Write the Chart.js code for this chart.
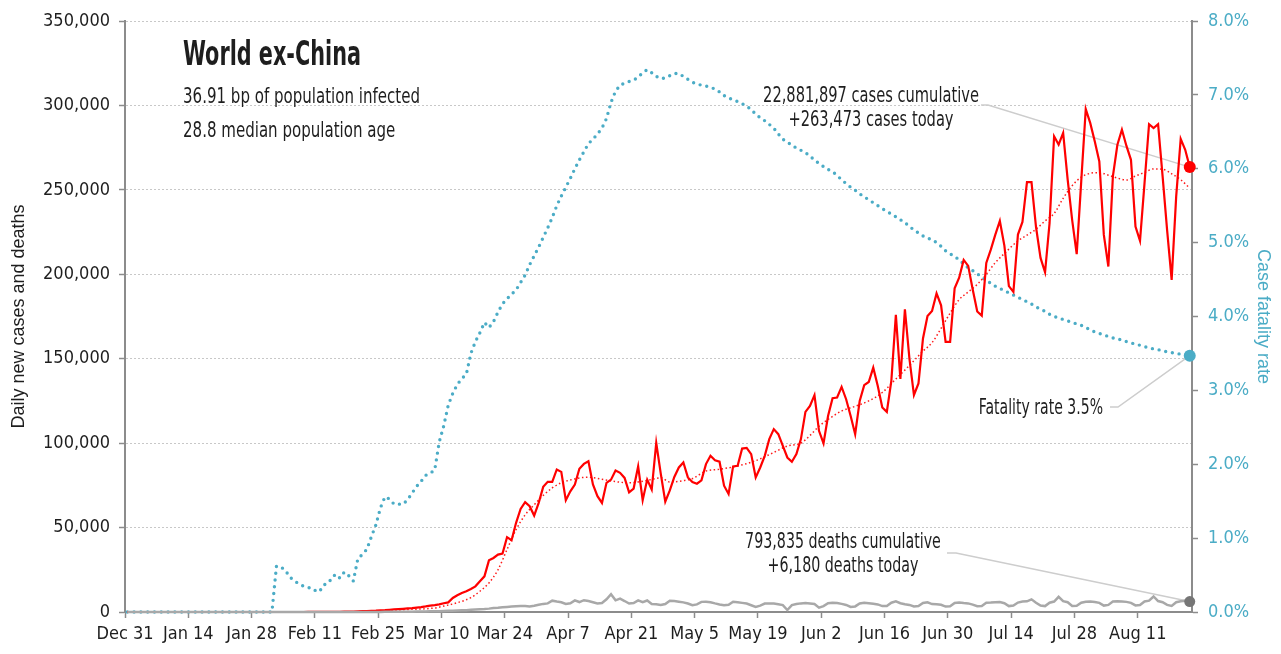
<!DOCTYPE html>
<html>
<head>
<meta charset="utf-8">
<title>World ex-China</title>
<script src="https://cdn.jsdelivr.net/npm/chart.js@4.4.1/dist/chart.umd.min.js"></script>
<style>
  html, body { margin: 0; padding: 0; background: #fff; }
  canvas { display: block; }
</style>
</head>
<body>
<canvas id="chart" width="1281" height="654"></canvas>
<script>
// Date axis labels, one every 14 days starting Dec 31 (day 0)
const dateTicks = ['Dec 31', 'Jan 14', 'Jan 28', 'Feb 11', 'Feb 25', 'Mar 10', 'Mar 24', 'Apr 7',
    'Apr 21', 'May 5', 'May 19', 'Jun 2', 'Jun 16', 'Jun 30', 'Jul 14', 'Jul 28', 'Aug 11'];

// Daily new cases, one value per day from Dec 31 to Aug 22
const newCases = [
    0, 0, 0, 0, 0, 0, 0, 0, 0, 0,
    0, 0, 0, 0, 0, 0, 0, 0, 0, 0,
    0, 0, 0, 0, 0, 0, 0, 0, 0, 0,
    0, 0, 0, 0, 0, 0, 0, 0, 0, 0,
    20, 30, 40, 50, 60, 80, 100, 150, 200, 250,
    300, 400, 500, 600, 700, 800, 1000, 1100, 1300, 1500,
    1700, 1900, 2100, 2300, 2600, 2900, 3300, 3800, 4100, 4500,
    5200, 5700, 8300, 9900, 11300, 12300, 13600, 15200, 18200, 21100,
    30600, 32000, 34000, 34600, 44300, 42500, 52800, 61000, 65000, 62600,
    57100, 64600, 74100, 77100, 77100, 84400, 83000, 66200, 71500, 75500,
    84800, 87700, 89300, 75500, 68600, 64600, 76500, 78400, 83800, 82400,
    79400, 70900, 73100, 86300, 66200, 78400, 72500, 100200, 82000, 65300,
    72000, 80000, 85600, 88600, 79700, 77000, 76000, 78000, 87600, 92500,
    89800, 89000, 74800, 69900, 86200, 86600, 96800, 97200, 93500, 79700,
    85600, 92500, 102400, 108300, 105300, 98400, 91500, 89000, 93500, 102400,
    118500, 122000, 128400, 107300, 99800, 116100, 126600, 127000, 133300, 126000,
    116100, 105300, 125000, 134300, 136200, 144700, 133900, 121100, 118500, 136800,
    176000, 138000, 179300, 150000, 128500, 135400, 162000, 175300, 178300, 188700,
    181600, 160000, 160000, 191700, 198000, 208500, 205000, 191000, 178000, 175500,
    206700, 214600, 223500, 231600, 217000, 193000, 189600, 223500, 231000, 254600,
    254600, 228000, 209700, 201200, 230400, 281700, 276800, 283700, 256000, 232000,
    211900, 255000, 297800, 289500, 278700, 266800, 223300, 204600, 258000, 276700,
    285600, 276000, 267800, 228300, 219800, 254000, 288900, 286600, 288900, 258000,
    226000, 196700, 246000, 280200, 273700, 263473
];

// Daily new deaths, same days
const newDeaths = [
    0, 0, 0, 0, 0, 0, 0, 0, 0, 0,
    0, 0, 0, 0, 0, 0, 0, 0, 0, 0,
    0, 0, 0, 0, 0, 0, 0, 0, 0, 0,
    0, 0, 0, 0, 0, 0, 0, 0, 0, 0,
    0, 0, 0, 0, 0, 0, 0, 0, 0, 0,
    20, 25, 30, 40, 50, 60, 70, 80, 90, 100,
    100, 130, 160, 200, 230, 280, 330, 400, 450, 500,
    600, 700, 800, 900, 1000, 1100, 1300, 1500, 1700, 1800,
    2000, 2300, 2500, 2800, 3000, 3200, 3400, 3600, 3500, 3300,
    3700, 4300, 4800, 5100, 6700, 6200, 5800, 4800, 5200, 6900,
    5900, 7000, 6500, 5800, 5100, 5300, 7500, 10500, 6900, 7900,
    6500, 5000, 5300, 6900, 5800, 6800, 4700, 4600, 4100, 4700,
    6700, 6500, 6100, 5700, 5000, 4000, 4500, 6000, 6100, 5800,
    5100, 4500, 4000, 4300, 6100, 5800, 5400, 5000, 4000, 3000,
    3800, 5000, 5100, 5000, 4600, 4100, 1200, 4100, 4700, 5100,
    5300, 5000, 4700, 2600, 3500, 5200, 5500, 5300, 4800, 4200,
    3000, 3300, 5000, 5500, 5200, 4900, 4500, 3500, 3600, 5500,
    6300, 5200, 4600, 4200, 3300, 3500, 5300, 5700, 4700, 4600,
    4300, 3200, 3400, 5400, 5600, 5300, 5100, 4400, 3400, 3600,
    5500, 5600, 5800, 5900, 5200, 3500, 3800, 5600, 6200, 6300,
    7500, 5500, 3800, 3500, 5500, 6200, 9000, 6400, 5800, 3600,
    3700, 5500, 6100, 6200, 5900, 5400, 3800, 4200, 6200, 6400,
    6200, 6000, 5400, 3900, 4100, 6200, 6700, 9200, 6500, 5800,
    4200, 3600, 5800, 6400, 6600, 6180
];

// Case fatality rate in percent, same days (right axis)
const fatalityRate = [
    0, 0, 0, 0, 0, 0, 0, 0, 0, 0,
    0, 0, 0, 0, 0, 0, 0, 0, 0, 0,
    0, 0, 0, 0, 0, 0, 0, 0, 0, 0,
    0, 0, 0, 0.62, 0.61, 0.56, 0.47, 0.42, 0.38, 0.35,
    0.33, 0.32, 0.27, 0.31, 0.40, 0.43, 0.51, 0.46, 0.54, 0.49,
    0.42, 0.72, 0.78, 0.85, 1.02, 1.18, 1.41, 1.56, 1.53, 1.46,
    1.46, 1.46, 1.52, 1.61, 1.70, 1.77, 1.85, 1.88, 1.92, 2.30,
    2.52, 2.80, 2.96, 3.08, 3.16, 3.22, 3.50, 3.66, 3.78, 3.92,
    3.85, 3.93, 4.06, 4.17, 4.24, 4.30, 4.36, 4.46, 4.56, 4.70,
    4.82, 4.94, 5.07, 5.20, 5.34, 5.50, 5.63, 5.75, 5.87, 6.00,
    6.12, 6.23, 6.34, 6.40, 6.47, 6.55, 6.68, 6.90, 7.05, 7.13,
    7.16, 7.18, 7.20, 7.24, 7.30, 7.34, 7.30, 7.25, 7.22, 7.23,
    7.26, 7.29, 7.29, 7.25, 7.21, 7.17, 7.15, 7.13, 7.12, 7.10,
    7.08, 7.04, 6.99, 6.96, 6.93, 6.91, 6.88, 6.85, 6.80, 6.74,
    6.69, 6.65, 6.60, 6.55, 6.47, 6.40, 6.36, 6.32, 6.28, 6.25,
    6.22, 6.17, 6.12, 6.07, 6.03, 5.99, 5.96, 5.91, 5.85, 5.80,
    5.75, 5.71, 5.66, 5.62, 5.58, 5.54, 5.50, 5.46, 5.42, 5.39,
    5.35, 5.31, 5.27, 5.22, 5.17, 5.13, 5.09, 5.06, 5.04, 5.00,
    4.95, 4.89, 4.85, 4.81, 4.77, 4.71, 4.66, 4.62, 4.58, 4.53,
    4.49, 4.45, 4.41, 4.38, 4.35, 4.32, 4.29, 4.26, 4.23, 4.20,
    4.17, 4.13, 4.10, 4.07, 4.03, 4.00, 3.98, 3.96, 3.94, 3.92,
    3.90, 3.88, 3.85, 3.82, 3.79, 3.77, 3.75, 3.73, 3.71, 3.70,
    3.68, 3.66, 3.64, 3.63, 3.61, 3.59, 3.58, 3.56, 3.55, 3.54,
    3.52, 3.51, 3.50, 3.49, 3.48, 3.47
];

const avgDays = [0, 50, 56, 62, 68, 70, 73, 76, 78, 80, 82, 84, 86, 88, 90, 92, 94, 96, 98, 100,
    102, 105, 108, 111, 113, 116, 118, 120, 123, 125, 128, 131, 135, 139, 143, 146, 149, 151, 153, 155,
    158, 161, 164, 167, 170, 173, 176, 178, 180, 182, 184, 186, 188, 190, 192, 194, 197, 199, 201, 203,
    205, 207, 209, 211, 213, 215, 217, 219, 221, 223, 225, 227, 229, 231, 233, 235];
const avgCases = [0, 200, 700, 1500, 2400, 3500, 5500, 8500, 12300, 17200, 25000, 37000, 48800, 57500, 63500, 69000, 73500, 76500, 78200, 79400,
    79800, 78600, 77200, 76500, 77000, 78500, 79500, 77000, 77800, 79000, 83500, 84500, 86500, 89600, 94500, 98300, 100000, 104500, 110000, 114000,
    119000, 121800, 125000, 130000, 138000, 146000, 154500, 159500, 168000, 177000, 185000, 189500, 194000, 200000, 206900, 212300, 219800, 223200, 226700, 231600,
    236000, 245000, 252500, 257500, 259800, 260200, 258700, 257000, 255800, 258200, 260300, 262400, 262200, 259500, 256000, 251000];

const cumulativeCases = 22881897;
const cumulativeDeaths = 793835;
const infectedBp = 36.91;
const medianAge = 28.8;

const NARROW = "'Liberation Sans Narrow', 'Arial Narrow', 'DejaVu Sans Condensed', sans-serif";
const PLAIN = "'Liberation Sans', Arial, sans-serif";
const BLUE = '#4bacc6';
const AXIS_GREY = '#8c8c8c';
const INK = '#1e1e1e';

const lastDay = newCases.length - 1;

// each day sits at midday, half a step right of its date tick
function toPoints(values) {
    return values.map((v, i) => ({ x: i + 0.5, y: v }));
}

function lastOnly(r) {
    return ctx => (ctx.dataIndex === ctx.dataset.data.length - 1 ? r : 0);
}

function fmt(n) {
    return n.toLocaleString('en-US');
}

// the original uses a tall, very narrow face; squeeze the condensed one sideways
function squeezeText(ctx, text, x, y, size, align, squeeze, weight) {
    ctx.save();
    ctx.font = (weight || 'normal') + ' ' + size + 'px ' + NARROW;
    ctx.textAlign = align;
    ctx.textBaseline = 'middle';
    ctx.translate(x, y);
    ctx.scale(squeeze, 1);
    ctx.fillText(text, 0, 0);
    ctx.restore();
}

// Title, notes and leader lines
const notesPlugin = {
    id: 'notes',
    beforeDatasetsDraw(chart) {
        const { ctx, scales } = chart;
        const endX = scales.x.getPixelForValue(lastDay + 0.5);
        const leaders = [
            [[981, 105], [988, 105], [endX, scales.y.getPixelForValue(newCases[lastDay])]],
            [[1110, 407], [1118, 407], [endX, scales.y1.getPixelForValue(fatalityRate[lastDay])]],
            [[947, 553], [956, 553], [endX, scales.y.getPixelForValue(newDeaths[lastDay])]]
        ];
        ctx.save();
        ctx.strokeStyle = '#cdcdcd';
        ctx.lineWidth = 1.5;
        leaders.forEach(pts => {
            ctx.beginPath();
            ctx.moveTo(pts[0][0], pts[0][1]);
            pts.slice(1).forEach(p => ctx.lineTo(p[0], p[1]));
            ctx.stroke();
        });
        ctx.restore();
    },
    afterDraw(chart) {
        const ctx = chart.ctx;
        ctx.save();
        ctx.fillStyle = INK;

        squeezeText(ctx, 'World ex-China', 183, 56, 33, 'left', 0.7, 'bold');
        squeezeText(ctx, infectedBp + ' bp of population infected', 183, 97, 22, 'left', 0.76);
        squeezeText(ctx, medianAge + ' median population age', 183, 131, 22, 'left', 0.76);

        squeezeText(ctx, fmt(cumulativeCases) + ' cases cumulative', 871, 96, 22, 'center', 0.74);
        squeezeText(ctx, '+' + fmt(newCases[lastDay]) + ' cases today', 871, 120, 22, 'center', 0.74);
        squeezeText(ctx, fmt(cumulativeDeaths) + ' deaths cumulative', 843, 542, 22, 'center', 0.72);
        squeezeText(ctx, '+' + fmt(newDeaths[lastDay]) + ' deaths today', 843, 566, 22, 'center', 0.72);
        squeezeText(ctx, 'Fatality rate ' + fatalityRate[lastDay].toFixed(1) + '%', 1103, 408, 22, 'right', 0.71);
        ctx.restore();
    }
};

const chart = new Chart(document.getElementById('chart'), {
    type: 'line',
    data: {
        datasets: [
            {
                // deaths, drawn on top
                data: toPoints(newDeaths),
                yAxisID: 'y',
                borderColor: '#a8a8a8',
                borderWidth: 2.5,
                pointRadius: lastOnly(5.5),
                pointBackgroundColor: '#767676',
                pointBorderWidth: 0,
                order: 1
            },
            {
                data: toPoints(newCases),
                yAxisID: 'y',
                borderColor: '#ff0000',
                borderWidth: 2.2,
                pointRadius: lastOnly(6),
                pointBackgroundColor: '#ff0000',
                pointBorderWidth: 0,
                order: 2
            },
            {
                data: avgDays.map((d, i) => ({ x: d + 0.5, y: avgCases[i] })),
                yAxisID: 'y',
                borderColor: '#ff1a1a',
                borderWidth: 1.5,
                borderDash: [1.5, 2.5],
                cubicInterpolationMode: 'monotone',
                pointRadius: 0,
                order: 3
            },
            {
                data: toPoints(fatalityRate),
                yAxisID: 'y1',
                borderColor: BLUE,
                borderWidth: 3.4,
                borderDash: [0, 6.8],
                borderCapStyle: 'round',
                pointRadius: lastOnly(6),
                pointBackgroundColor: BLUE,
                pointBorderWidth: 0,
                order: 4
            }
        ]
    },
    options: {
        responsive: false,
        animation: false,
        devicePixelRatio: 1,
        clip: false,
        layout: { padding: { top: 21, left: 0, right: 0, bottom: 0 } },
        plugins: {
            legend: { display: false },
            tooltip: { enabled: false }
        },
        scales: {
            x: {
                type: 'linear',
                min: 0,
                max: 236,
                afterBuildTicks: scale => {
                    scale.ticks = dateTicks.map((t, i) => ({ value: i * 14 }));
                },
                afterFit: scale => { scale.height = 42; },
                ticks: {
                    autoSkip: false,
                    maxRotation: 0,
                    padding: 6,
                    color: INK,
                    font: { family: NARROW, size: 18 },
                    callback: v => dateTicks[Math.round(v / 14)]
                },
                grid: { drawOnChartArea: false, tickLength: 6, tickColor: AXIS_GREY, tickWidth: 1.5 },
                border: { color: AXIS_GREY, width: 2 }
            },
            y: {
                position: 'left',
                min: 0,
                max: 350000,
                afterFit: scale => { scale.width = 125; },
                ticks: {
                    stepSize: 50000,
                    padding: 9,
                    color: INK,
                    font: { family: NARROW, size: 18 },
                    callback: v => fmt(v)
                },
                grid: { color: '#c8c8c8', lineWidth: 1, tickLength: 6, tickColor: AXIS_GREY, tickWidth: 1.5 },
                border: { color: AXIS_GREY, width: 2, dash: [2, 2] },
                title: {
                    display: true,
                    text: 'Daily new cases and deaths',
                    color: INK,
                    font: { family: PLAIN, size: 18 },
                    padding: { top: 8, bottom: 0 }
                }
            },
            y1: {
                position: 'right',
                min: 0,
                max: 8,
                afterFit: scale => { scale.width = 89; },
                ticks: {
                    stepSize: 1,
                    padding: 10,
                    color: BLUE,
                    font: { family: NARROW, size: 18 },
                    callback: v => v.toFixed(1) + '%'
                },
                grid: { drawOnChartArea: false, tickLength: 6, tickColor: AXIS_GREY, tickWidth: 1.5 },
                border: { color: AXIS_GREY, width: 2 },
                title: {
                    display: true,
                    text: 'Case fatality rate',
                    color: BLUE,
                    font: { family: PLAIN, size: 18 },
                    padding: { top: 7, bottom: 0 }
                }
            }
        }
    },
    plugins: [notesPlugin]
});
</script>
</body>
</html>
